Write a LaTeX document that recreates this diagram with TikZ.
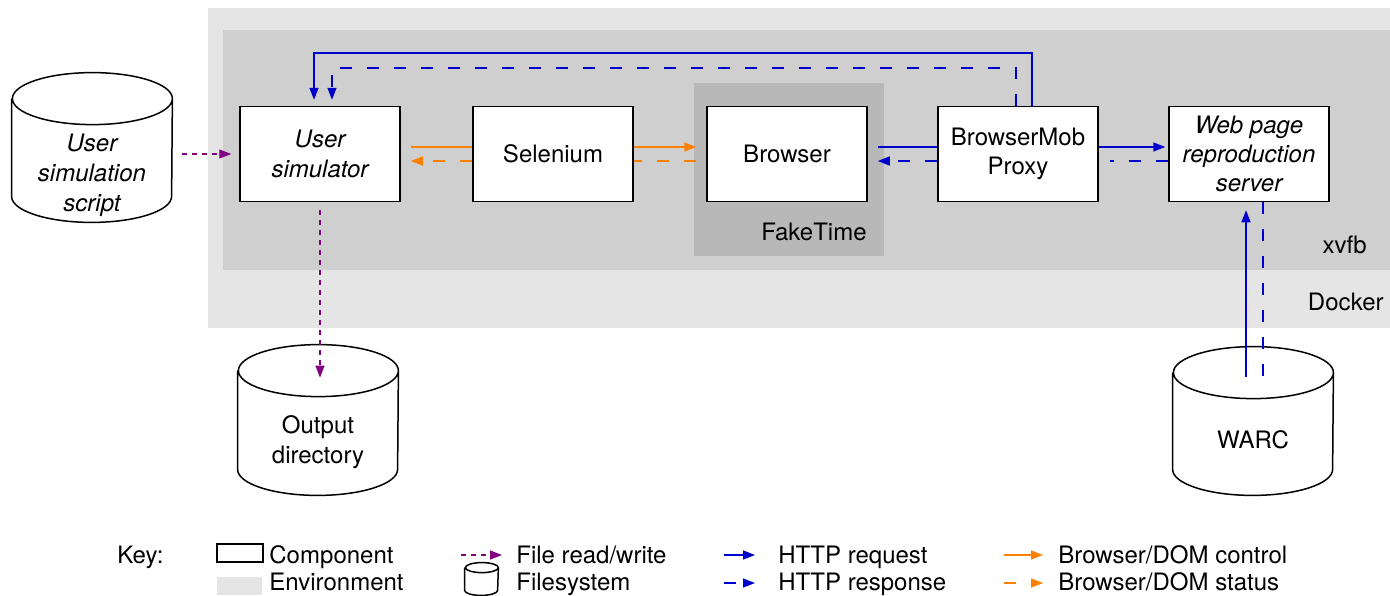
\documentclass[tikz,border=0pt]{standalone}
\usepackage{fontspec}
\setmainfont{TeX Gyre Heros}
\usetikzlibrary{arrows.meta,calc}
\definecolor{DockerGray}{HTML}{E5E5E5}
\definecolor{XvfbGray}{HTML}{CFCFCF}
\definecolor{FakeGray}{HTML}{B8B8B8}
\definecolor{ReqBlue}{HTML}{0000CC}
\definecolor{CtrlOrange}{HTML}{FF8000}
\definecolor{FilePurple}{HTML}{800080}
% outline of a filesystem drum round node #1 (x radius #2, end radius #3)
\newcommand\drum[3]{%
  \draw[line width=0.75pt]
    ($(#1.north west)+(0pt,-#3)$) -- ($(#1.south west)+(0pt,#3)$)
    arc[start angle=180,end angle=360,x radius=#2,y radius=#3]
    -- ($(#1.north east)+(0pt,-#3)$)
    arc[start angle=0,end angle=180,x radius=#2,y radius=#3]
    arc[start angle=180,end angle=360,x radius=#2,y radius=#3];}

\begin{document}
\fontsize{12}{14.7}\selectfont
\begin{tikzpicture}[x=0.5pt,y=-0.5pt,
    comp/.style={draw,line width=0.75pt,fill=white,minimum width=80pt,
                 minimum height=47.5pt,align=center,inner sep=1pt},
    fsys/.style={minimum width=80pt,minimum height=74.5pt,inner sep=0pt},
    env/.style={anchor=base east,inner sep=0pt},
    tip/.style={-{Triangle[length=6pt,width=4.5pt]}},
    req/.style={ReqBlue,line width=0.75pt},
    resp/.style={req,dash pattern=on 6pt off 7.5pt},
    ctrl/.style={CtrlOrange,line width=0.75pt},
    stat/.style={ctrl,dash pattern=on 6pt off 7.5pt},
    file/.style={FilePurple,line width=0.6pt,dash pattern=on 2.5pt off 2.5pt},
    keytext/.style={anchor=base west,inner sep=0pt},
  ]
  \useasboundingbox (0,0) rectangle (1390,595);
  % Environments
  \fill[DockerGray] (208,8) rectangle (1390,328);
  \fill[XvfbGray] (223,30) rectangle (1390,270);
  \fill[FakeGray] (694,83) rectangle (884,256);
  \node[env] (docker) at (1384,310) {Docker};
  \node[env] (xvfb) at (1367,253) {xvfb};
  \node[env] (faketime) at (867,240) {FakeTime};

  % Components
  \node[comp,font=\itshape] (sim) at (320,154) {User\\simulator};
  \node[comp] (sel) at (553,154) {Selenium};
  \node[comp] (brow) at (787,154) {Browser};
  \node[comp] (proxy) at (1018,154) {BrowserMob\\Proxy};
  \node[comp,font=\itshape] (server) at (1249,154) {Web page\\reproduction\\server};

  % Filesystems
  \node[fsys,label={[yshift=-14pt,align=center,font={\fontsize{12}{15}\selectfont\itshape}]center:User\\simulation\\script}]
    (script) at (92,147.5) {};
  \node[fsys,minimum height=75pt,label={[yshift=-11pt,align=center]center:Output\\directory}]
    (out) at (318,420) {};
  \node[fsys,minimum height=74pt,label={[yshift=-9.5pt]center:WARC}]
    (warc) at (1253,421) {};
  \drum{script}{40pt}{13pt}
  \drum{out}{40pt}{13pt}
  \drum{warc}{40pt}{13pt}

  % File access
  \draw[file,tip] ($(script.east)+(10,6.5)$) -- ($(sim.west)+(-8,0)$);
  \draw[file,tip] ($(sim.south)+(0,8)$) -- ($(sim.south |- out.north)+(0,33)$);

  % Browser/DOM
  \draw[ctrl] ($(sim.east)+(10,-7)$) -- ($(sel.west)+(0,-7)$);
  \draw[stat,tip] ($(sel.west)+(0,7)$) -- ($(sim.east)+(10,7)$);
  \draw[ctrl,tip] ($(sel.east)+(0,-7)$) -- ($(brow.west)+(-10,-7)$);
  \draw[stat] ($(brow.west)+(-10,7)$) -- ($(sel.east)+(0,7)$);

  % HTTP
  \draw[req] ($(brow.east)+(10,-7)$) -- ($(proxy.west)+(0,-7)$);
  \draw[resp,tip] ($(proxy.west)+(0,7)$) -- ($(brow.east)+(10,7)$);
  \draw[req,tip] ($(proxy.east)+(0,-7)$) -- ($(server.west)+(-3,-7)$);
  \draw[resp] ($(server.west)+(0,7)$) -- ($(proxy.east)+(11,7)$);
  \draw[req,tip] ($(proxy.north)+(14,0)$) -- ++(0,-53) -| ($(sim.north)+(-6,-6)$);
  \draw[resp,tip] ($(proxy.north)+(-2,0)$) -- ++(0,-38) -| ($(sim.north)+(12,-6)$);
  \draw[req,tip] ($(warc.north)+(-7,30)$) -- ($(server.south)+(-3,8)$);
  \draw[resp] ($(server.south)+(14,0)$) -- ($(warc.north)+(10,30)$);

  % Key
  \node[keytext] (key) at (117,563) {Key:};
  \node[draw,line width=0.75pt,minimum width=23pt,minimum height=9pt,inner sep=0pt] (kcomp) at (240,553) {};
  \node[keytext] (kcompt) at (269,563) {Component};
  \node[fill=DockerGray,minimum width=22.5pt,minimum height=9pt,inner sep=0pt] (kenv) at (239.5,586) {};
  \node[keytext] (kenvt) at (269,590) {Environment};
  \node[keytext] (kfilet) at (516,563) {File read/write};
  \draw[file,tip] ($(kfilet.base west)+(-55,-8)$) -- ($(kfilet.base west)+(-14,-8)$);
  \node[fsys,minimum width=16.5pt,minimum height=16pt] (kfs) at (481.5,579) {};
  \drum{kfs}{8.25pt}{2.5pt}
  \node[keytext] (kfst) at (516,590) {Filesystem};
  \node[keytext] (kreqt) at (778,563) {HTTP request};
  \draw[req,tip] ($(kreqt.base west)+(-54,-8)$) -- ($(kreqt.base west)+(-23,-8)$);
  \node[keytext] (krespt) at (778,590) {HTTP response};
  \draw[resp,tip] ($(krespt.base west)+(-54,-7)$) -- ($(krespt.base west)+(-23,-7)$);
  \node[keytext] (kctrlt) at (1058,563) {Browser/DOM control};
  \draw[ctrl,tip] ($(kctrlt.base west)+(-54,-8)$) -- ($(kctrlt.base west)+(-15,-8)$);
  \node[keytext] (kstatt) at (1058,590) {Browser/DOM status};
  \draw[stat,tip] ($(kstatt.base west)+(-54,-7)$) -- ($(kstatt.base west)+(-15,-7)$);
\end{tikzpicture}
\end{document}
